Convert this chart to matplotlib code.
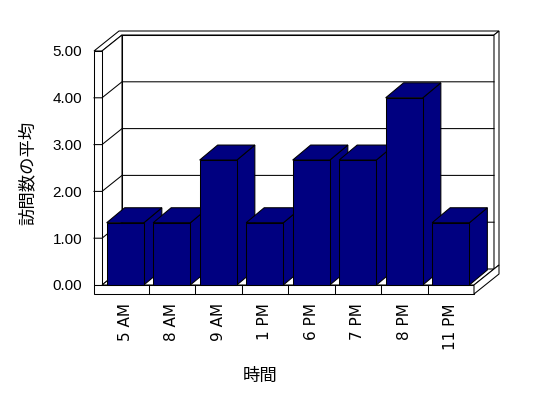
import matplotlib
matplotlib.use('Agg')
import matplotlib.pyplot as plt
from matplotlib.patches import Polygon

# ---- data ----
categories = ['5 AM', '8 AM', '9 AM', '1 PM', '6 PM', '7 PM', '8 PM', '11 PM']
values = [1.33, 1.33, 2.67, 1.33, 2.67, 2.67, 4.00, 1.33]
y_ticks = [0, 1, 2, 3, 4, 5]
y_tick_labels = ['0.00', '1.00', '2.00', '3.00', '4.00', '5.00']
x_title = '時間'
y_title = '訪問数の平均'

# ---- layout (pixels) ----
W, H = 548, 398
L, R, T, B = 102, 474, 51, 285
BAR_COLOR = '#000080'
LW = 0.75

fig = plt.figure(figsize=(W / 100, H / 100), dpi=100)
fig.patch.set_facecolor('white')
ax = fig.add_axes([L / W, 1 - B / H, (R - L) / W, (B - T) / H])
n = len(categories)
x0, x1 = -0.5, n - 0.5
y0, y1 = min(y_ticks), max(y_ticks)
ax.set_xlim(x0, x1)
ax.set_ylim(y0, y1)

sx = (x1 - x0) / (R - L)   # data units per pixel
sy = (y1 - y0) / (B - T)

dX, dY = 20 * sx, 16 * sy     # inner depth of walls
oX, oY = 25 * sx, 20 * sy     # outer depth (back wall thickness)
tw = 8 * sx                   # left wall thickness
tf = 9 * sy                   # floor thickness
bX, bY = 18 * sx, 15 * sy     # bar depth


def poly(pts, z, fc='white'):
    p = Polygon(pts, closed=True, facecolor=fc, edgecolor='black',
                linewidth=LW, zorder=z, clip_on=False, joinstyle='miter')
    ax.add_patch(p)
    return p


# back wall face
poly([(x0 + dX, y0 + dY), (x1 + dX, y0 + dY), (x1 + dX, y1 + dY), (x0 + dX, y1 + dY)], 1)
# top band of walls
poly([(x0 - tw, y1), (x0, y1), (x0 + dX, y1 + dY), (x1 + dX, y1 + dY),
      (x1 + oX, y1 + oY), (x0 - tw + oX, y1 + oY)], 1)
# right band of back wall
poly([(x1 + dX, y1 + dY), (x1 + oX, y1 + oY), (x1 + oX, y0 + oY), (x1 + dX, y0 + dY)], 1)
# left wall inner face
poly([(x0, y0), (x0 + dX, y0 + dY), (x0 + dX, y1 + dY), (x0, y1)], 1)
# left wall front face
poly([(x0 - tw, y0), (x0, y0), (x0, y1), (x0 - tw, y1)], 1)
# floor top
poly([(x0, y0), (x1, y0), (x1 + dX, y0 + dY), (x0 + dX, y0 + dY)], 2)
# floor front
poly([(x0 - tw, y0 - tf), (x1, y0 - tf), (x1, y0), (x0 - tw, y0)], 2)
# floor right
poly([(x1, y0), (x1, y0 - tf), (x1 + oX, y0 - tf + oY), (x1 + oX, y0 + oY)], 2)

# gridlines (left wall tick + diagonal + back wall)
for v in y_ticks[1:-1]:
    ax.plot([x0 - tw, x0, x0 + dX, x1 + dX], [v, v, v + dY, v + dY],
            color='black', lw=LW, zorder=1.5, clip_on=False)

# category separators on floor front
for k in range(1, n):
    ax.plot([k - 0.5, k - 0.5], [y0 - tf, y0], color='black', lw=LW,
            zorder=3, clip_on=False)

# bars
bw = 0.8
xs = list(range(n))
bars = ax.bar(xs, values, width=bw, color=BAR_COLOR, edgecolor='black',
              linewidth=LW)
for i, (xc, v) in enumerate(zip(xs, values)):
    z = 10 + 3 * i
    xl, xr = xc - bw / 2, xc + bw / 2
    poly([(xr, y0), (xr + bX, y0 + bY), (xr + bX, v + bY), (xr, v)], z, BAR_COLOR)
    poly([(xl, v), (xr, v), (xr + bX, v + bY), (xl + bX, v + bY)], z, BAR_COLOR)
    bars[i].set_zorder(z + 1)
    bars[i].set_clip_on(False)

# axes cosmetics
for s in ax.spines.values():
    s.set_visible(False)
ax.patch.set_visible(False)
ax.set_yticks(y_ticks, y_tick_labels, fontfamily='Liberation Sans', fontsize=11)
ax.set_xticks(xs, categories, rotation=90, fontfamily='DejaVu Sans', fontsize=11)
ax.tick_params(axis='y', length=0, pad=20 * 0.72)
ax.tick_params(axis='x', length=0, pad=18 * 0.72)
for lab in ax.get_xticklabels():
    lab.set_verticalalignment('top')

fig.text(260 / W, 1 - 376 / H, x_title, ha='center', va='center',
         fontfamily=['Noto Sans CJK JP', 'DejaVu Sans'], fontsize=12.5)
fig.text(28 / W, 1 - 173 / H, y_title, ha='center', va='center', rotation=90,
         fontfamily=['Noto Sans CJK JP', 'DejaVu Sans'], fontsize=12.5)

fig.savefig('out.png', dpi=100, facecolor='white')
